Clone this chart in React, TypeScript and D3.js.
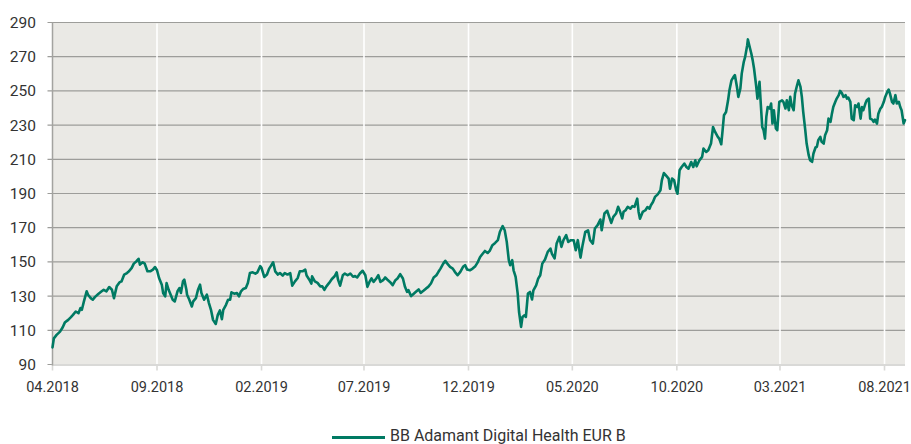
import React from 'react';
import * as d3 from 'd3';

const seriesName = 'BB Adamant Digital Health EUR B';
const yTicks = [90, 110, 130, 150, 170, 190, 210, 230, 250, 270, 290];
const xTickLabels = ['04.2018', '09.2018', '02.2019', '07.2019', '12.2019', '05.2020', '10.2020', '03.2021', '08.2021'];
const xDomain = ['2018-04-01', '2021-08-31'];

const dates = [
  '2018-04-01','2018-04-03','2018-04-07','2018-04-12','2018-04-16','2018-04-19','2018-04-24','2018-04-28','2018-05-01','2018-05-05',
  '2018-05-09','2018-05-12','2018-05-14','2018-05-17','2018-05-21','2018-05-23','2018-05-27','2018-05-30','2018-06-02','2018-06-07',
  '2018-06-12','2018-06-15','2018-06-19','2018-06-23','2018-06-27','2018-06-30','2018-07-04','2018-07-08','2018-07-11','2018-07-15',
  '2018-07-19','2018-07-22','2018-07-26','2018-07-29','2018-08-02','2018-08-05','2018-08-07','2018-08-11','2018-08-14','2018-08-18',
  '2018-08-22','2018-08-26','2018-08-29','2018-09-01','2018-09-04','2018-09-08','2018-09-10','2018-09-13','2018-09-15','2018-09-18',
  '2018-09-21','2018-09-24','2018-09-27','2018-10-01','2018-10-04','2018-10-06','2018-10-09','2018-10-11','2018-10-14','2018-10-15',
  '2018-10-18','2018-10-22','2018-10-24','2018-10-28','2018-10-31','2018-11-03','2018-11-05','2018-11-09','2018-11-13','2018-11-16',
  '2018-11-19','2018-11-22','2018-11-26','2018-11-29','2018-12-02','2018-12-05','2018-12-07','2018-12-11','2018-12-14','2018-12-17',
  '2018-12-19','2018-12-23','2018-12-27','2018-12-30',
  '2019-01-02','2019-01-05','2019-01-09','2019-01-12','2019-01-15','2019-01-19','2019-01-23','2019-01-26','2019-01-30','2019-02-01',
  '2019-02-05','2019-02-09','2019-02-12','2019-02-15','2019-02-18','2019-02-21','2019-02-25','2019-02-28','2019-03-04','2019-03-07',
  '2019-03-11','2019-03-15','2019-03-18','2019-03-22','2019-03-26','2019-03-29','2019-04-02','2019-04-06','2019-04-08','2019-04-12',
  '2019-04-15','2019-04-16','2019-04-20','2019-04-24','2019-04-28','2019-05-01','2019-05-04','2019-05-07','2019-05-11','2019-05-15',
  '2019-05-19','2019-05-22','2019-05-24','2019-05-27','2019-05-31','2019-06-03','2019-06-07','2019-06-11','2019-06-15','2019-06-18',
  '2019-06-21','2019-06-25','2019-06-29','2019-07-03','2019-07-06','2019-07-09','2019-07-12','2019-07-15','2019-07-19','2019-07-22',
  '2019-07-25','2019-07-29','2019-08-01','2019-08-04','2019-08-08','2019-08-12','2019-08-16','2019-08-19','2019-08-23','2019-08-27',
  '2019-08-30','2019-09-02','2019-09-04','2019-09-08','2019-09-11','2019-09-15','2019-09-19','2019-09-22','2019-09-26','2019-09-30',
  '2019-10-03','2019-10-07','2019-10-11','2019-10-15','2019-10-18','2019-10-21','2019-10-25','2019-10-28','2019-10-31','2019-11-04',
  '2019-11-08','2019-11-11','2019-11-15','2019-11-19','2019-11-23','2019-11-26','2019-11-29','2019-12-03','2019-12-07','2019-12-11',
  '2019-12-14','2019-12-18','2019-12-22','2019-12-25','2019-12-29',
  '2020-01-01','2020-01-05','2020-01-09','2020-01-13','2020-01-16','2020-01-20','2020-01-23','2020-01-26','2020-01-29','2020-01-31',
  '2020-02-03','2020-02-05','2020-02-08','2020-02-11','2020-02-13','2020-02-16','2020-02-18','2020-02-21','2020-02-23','2020-02-26',
  '2020-02-29','2020-03-03','2020-03-05','2020-03-09','2020-03-12','2020-03-15','2020-03-18','2020-03-22','2020-03-26','2020-03-30',
  '2020-04-01','2020-04-05','2020-04-08','2020-04-12','2020-04-15','2020-04-18','2020-04-22','2020-04-25','2020-04-29','2020-05-03',
  '2020-05-06','2020-05-09','2020-05-13','2020-05-16','2020-05-20','2020-05-24','2020-05-27','2020-05-31','2020-06-03','2020-06-07',
  '2020-06-11','2020-06-13','2020-06-17','2020-06-21','2020-06-24','2020-06-27','2020-06-30','2020-07-04','2020-07-07','2020-07-10',
  '2020-07-13','2020-07-15','2020-07-18','2020-07-21','2020-07-25','2020-07-28','2020-07-31','2020-08-04','2020-08-06','2020-08-08',
  '2020-08-12','2020-08-16','2020-08-19','2020-08-22','2020-08-24','2020-08-27','2020-08-30','2020-09-03','2020-09-07','2020-09-09',
  '2020-09-12','2020-09-15','2020-09-19','2020-09-21','2020-09-24','2020-09-27','2020-09-30','2020-10-02','2020-10-05','2020-10-08',
  '2020-10-12','2020-10-15','2020-10-18','2020-10-22','2020-10-25','2020-10-28','2020-10-30','2020-11-03','2020-11-07','2020-11-09',
  '2020-11-13','2020-11-16','2020-11-20','2020-11-23','2020-11-26','2020-11-30','2020-12-02','2020-12-05','2020-12-07','2020-12-09',
  '2020-12-12','2020-12-15','2020-12-17','2020-12-20','2020-12-23','2020-12-25','2020-12-28','2020-12-30',
  '2021-01-02','2021-01-04','2021-01-07','2021-01-09','2021-01-12','2021-01-13','2021-01-15','2021-01-18','2021-01-20','2021-01-22',
  '2021-01-25','2021-01-27','2021-01-30','2021-02-01','2021-02-03','2021-02-05','2021-02-07','2021-02-09','2021-02-11','2021-02-14',
  '2021-02-16','2021-02-18','2021-02-20','2021-02-23','2021-02-25','2021-02-28','2021-03-04','2021-03-06','2021-03-09','2021-03-11',
  '2021-03-14','2021-03-16','2021-03-18','2021-03-21','2021-03-23','2021-03-26','2021-03-28','2021-03-31','2021-04-02','2021-04-04',
  '2021-04-07','2021-04-09','2021-04-12','2021-04-14','2021-04-17','2021-04-19','2021-04-22','2021-04-24','2021-04-26','2021-04-29',
  '2021-05-01','2021-05-04','2021-05-06','2021-05-09','2021-05-11','2021-05-14','2021-05-16','2021-05-18','2021-05-21','2021-05-23',
  '2021-05-26','2021-05-28','2021-05-31','2021-06-02','2021-06-05','2021-06-07','2021-06-09','2021-06-12','2021-06-14','2021-06-17',
  '2021-06-19','2021-06-22','2021-06-24','2021-06-27','2021-06-29','2021-07-01','2021-07-04','2021-07-06','2021-07-09','2021-07-11',
  '2021-07-14','2021-07-16','2021-07-18','2021-07-21','2021-07-23','2021-07-26','2021-07-28','2021-07-31','2021-08-02','2021-08-05',
  '2021-08-07','2021-08-09','2021-08-12','2021-08-14','2021-08-17','2021-08-19','2021-08-22','2021-08-24','2021-08-26','2021-08-29',
  '2021-08-31',
];

const values = [
  100, 105.3, 107.3, 109.2, 111.8, 114.5, 116.1, 117.7, 119, 121,
  120, 123, 122, 126.9, 132.8, 130.8, 128.8, 127.9, 129.4, 131.2,
  132.8, 133.7, 132.8, 135.3, 133.7, 128.8, 135.7, 138, 138.6, 142.6,
  143.5, 144.5, 146.5, 149, 150.4, 151.8, 148.4, 149.8, 149, 144.5,
  144.5, 145.5, 147, 145.1, 140.6, 136.7, 131.8, 129.8, 137.6, 133.7,
  130.8, 127.9, 126.9, 132.8, 134.7, 131.8, 138.6, 139.6, 133.7, 130.8,
  128.2, 123.9, 126.9, 128.8, 133.7, 136.7, 131.8, 127.9, 130.8, 125.9,
  122, 116.1, 113.7, 119, 121.6, 116.5, 122, 124.9, 127.9, 127.9,
  132.2, 131.4, 131.8, 129.8,
  132.8, 134.1, 134.7, 137.7, 143.5, 143.9, 143.1, 143.9, 147.5, 146.5,
  141.2, 142.6, 145.9, 147.8, 149.8, 144.5, 142.6, 143.5, 142, 143.5,
  142.6, 143.5, 136.1, 138.6, 140.6, 144.5, 144.5, 145.5, 142, 139.6,
  137.3, 141.6, 138.6, 137.7, 135.7, 135.7, 133.7, 135.7, 137.7, 140,
  141.6, 143.9, 139.6, 136.1, 142.2, 143.2, 142.2, 143.2, 141.3, 141.7,
  140.9, 143.2, 144.8, 142.2, 135.4, 138.3, 140.3, 138.3, 140.3, 142.2,
  138.3, 139.3, 140.9, 139.7, 138.3, 136.4, 139.3, 140.3, 142.8, 140.3,
  135.4, 132.5, 133.5, 130, 131.1, 132.5, 133.9, 131.9, 133.1, 134.5,
  135.4, 137.4, 140.9, 142.2, 144.2, 146.1, 149, 150.6, 149, 147.1,
  146.1, 144.2, 142.2, 144.2, 147.1, 148.1, 145.5, 145.1, 146.1, 147.5,
  149.4, 152.9, 154.9, 156.4, 155.2,
  156.4, 159.8, 161.1, 162.7, 167.6, 170.9, 168.5, 161.7, 151, 148.1,
  151, 145.1, 141.2, 131.5, 120.7, 112, 117.8, 118.8, 117.8, 131.5,
  132.4, 128, 133.4, 136.3, 140.2, 142.2, 149, 151.4, 155.9, 157.8,
  154.9, 152, 160.7, 164.6, 158.8, 162.7, 165.6, 161.7, 162.7, 162.7,
  156.8, 162.7, 152.5, 159.8, 167.6, 168.5, 162.7, 160.7, 169.5, 171.5,
  174.8, 168.5, 178.3, 179.9, 176.3, 172.8, 176.3, 178.3, 182.2, 179.3,
  175.4, 179.3, 180.2, 182.2, 181.2, 182.6, 182.2, 187, 179.2, 175.3,
  179.2, 180.2, 182.1, 181.1, 183.1, 185, 188, 189.5, 191.9, 197.7,
  202, 200.6, 198.7, 192.8, 198.7, 197.7, 191.9, 189.9, 203.6, 205.5,
  207.5, 205.5, 204.5, 208.4, 205.5, 209.4, 205.9, 209.4, 211.4, 216.3,
  214.3, 215.3, 219.2, 228.9, 226, 223.1, 222.1, 218.8, 227, 235.8,
  237.7, 244.5, 250.4, 256.2, 258.2, 259.2, 252.3, 246.5,
  251.4, 260.1, 267, 269.9, 276.7, 280.1, 276.7, 271.9, 268, 263.1,
  253.3, 245.5, 255.3, 241.6, 228.9, 227, 222.1, 234.8, 240.6, 239.7,
  242.6, 230.9, 238.7, 228, 227, 243.6, 244.5, 243.6, 239.7, 244.5,
  238.7, 246.5, 241.6, 238.7, 248.4, 253.3, 256.2, 252.3, 246.5, 237.7,
  227, 219.2, 212.4, 209.5, 208.5, 213.4, 216.9, 217.3, 221.2, 223.1,
  220.2, 219.2, 224.1, 227, 233.8, 231.9, 236.7, 240.6, 243.6, 245.5,
  247.5, 250, 248.4, 246.5, 247.5, 245.5, 246.1, 243.6, 233.8, 232.9,
  241.6, 240.6, 242.6, 233.8, 240.6, 238.7, 242.6, 244.5, 245.5, 233.8,
  233.2, 231.9, 233.2, 230.9, 236.7, 239.7, 240.6, 243.6, 246.5, 249.4,
  250.8, 248.4, 243.6, 242.6, 247.5, 242.6, 243.6, 240.6, 238.7, 230.9,
  232.9,
];

const FONT = 'Roboto, sans-serif';

export default function App() {
  const W = 911, H = 444;
  const left = 52.5, right = 905, top = 22.5, bottom = 364.5;
  const parseDay = d3.timeParse('%Y-%m-%d');
  const parseMonth = d3.timeParse('%m.%Y');
  const x = d3.scaleTime().domain(xDomain.map(d => parseDay(d) as Date)).range([left, right]);
  const y = d3.scaleLinear().domain([90, 290]).range([bottom, top]);
  const pts = dates.map((d, i) => [x(parseDay(d) as Date), y(values[i])] as [number, number]);
  const path = d3.line()(pts) || '';
  const tickXs = xTickLabels.map(l => x(parseMonth(l) as Date));

  return (
    <svg width={W} height={H} style={{ position: 'absolute', left: 0, top: 0, background: '#fff' }}>
      <rect x={left} y={top} width={right - left} height={bottom - top} fill="#EAE9E5" />
      {yTicks.map(t => (
        <g key={t}>
          <line x1={47.5} x2={right} y1={y(t)} y2={y(t)} stroke="#9d9d9a" strokeWidth={1.2} />
          <text x={36} y={y(t)} dy="0.35em" textAnchor="end" fontFamily={FONT} fontSize={15.5} fill="#333">{t}</text>
        </g>
      ))}
      {tickXs.map((tx, i) => (
        <g key={i}>
          {i > 0 && <line x1={tx} x2={tx} y1={top + 1} y2={bottom} stroke="#ffffff" strokeWidth={1.6} />}
          <line x1={tx} x2={tx} y1={bottom} y2={bottom + 6} stroke="#d9d9d7" strokeWidth={1.6} />
          <text x={tx} y={392} textAnchor="middle" fontFamily={FONT} fontSize={14.5} fill="#333">{xTickLabels[i]}</text>
        </g>
      ))}
      <line x1={left} x2={right} y1={bottom + 0.5} y2={bottom + 0.5} stroke="#d9d9d7" strokeWidth={2} />
      <line x1={left} x2={left} y1={top} y2={bottom + 1} stroke="#a3a3a0" strokeWidth={1.5} />
      <path d={path} fill="none" stroke="#007A63" strokeWidth={2.6} strokeLinejoin="round" strokeLinecap="round" />
      <line x1={332} x2={385} y1={437.5} y2={437.5} stroke="#007A63" strokeWidth={3} />
      <text x={390} y={440.5} fontFamily={FONT} fontSize={16} fill="#333">{seriesName}</text>
    </svg>
  );
}
